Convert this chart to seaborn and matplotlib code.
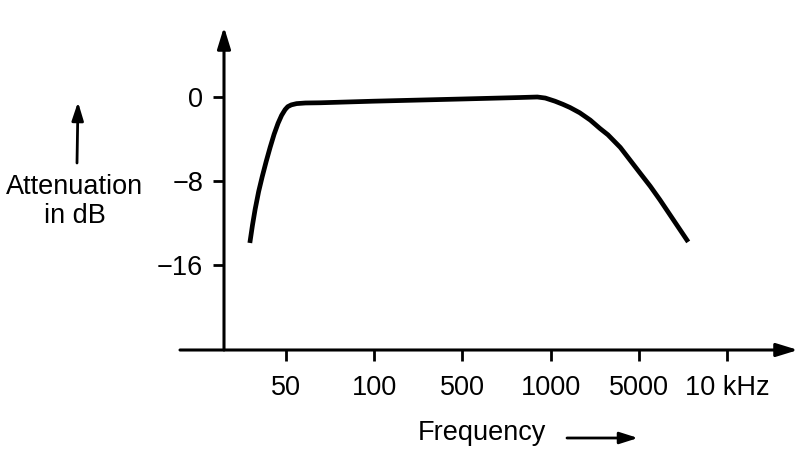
import matplotlib
matplotlib.use("Agg")
import matplotlib.pyplot as plt
import seaborn as sns
import pandas as pd

# ---- data (x in tick-index units, y in dB) ----
tick_labels = ["50", "100", "500", "1000", "5000", "10 kHz"]
tick_pos = [0, 1, 2, 3, 4, 5]
y_ticks = [0, -8, -16]
y_tick_labels = ["0", "\u22128", "\u221216"]

freq_pos = [-0.41, -0.38, -0.35, -0.31, -0.27, -0.225, -0.18, -0.135, -0.09,
            -0.05, -0.01, 0.02, 0.06, 0.12, 0.22, 0.39, 0.99, 1.95, 2.65,
            2.85, 2.94, 3.05, 3.14, 3.22, 3.33, 3.45, 3.56, 3.65, 3.79, 3.90,
            4.01, 4.13, 4.24, 4.40, 4.56]
attenuation = [-13.9, -12.2, -10.7, -9.0, -7.6, -6.15, -4.8, -3.55, -2.5,
               -1.75, -1.2, -0.92, -0.75, -0.63, -0.57, -0.55, -0.4, -0.2, -0.05,
               0.0, -0.1, -0.4, -0.7, -1.0, -1.5, -2.2, -3.0, -3.6, -4.8, -6.0,
               -7.2, -8.5, -9.8, -11.8, -13.8]

df = pd.DataFrame({"pos": freq_pos, "db": attenuation})

sns.set_theme(style="white")
plt.rcParams["font.family"] = ["Liberation Sans", "DejaVu Sans"]

W, H = 808, 469
fig = plt.figure(figsize=(W / 100, H / 100), dpi=100)
fig.patch.set_facecolor("white")

def fx(px):
    return px / W

def fy(py):
    return 1 - py / H

left, right, top, bottom = 224, 798, 27, 350
ax = fig.add_axes([fx(left), fy(bottom), (right - left) / W, (bottom - top) / H])
ax.set_facecolor("none")

xlim = ((left - 286) / 88.2, (right - 286) / 88.2)
ylim = (-(bottom - 97) / 10.5, -(top - 97) / 10.5)
ax.set_xlim(*xlim)
ax.set_ylim(*ylim)

sns.lineplot(data=df, x="pos", y="db", sort=False, color="black",
             linewidth=3.4, ax=ax, solid_capstyle="butt",
             solid_joinstyle="round")

for s in ax.spines.values():
    s.set_visible(False)

fs = 19.5
ax.set_xticks(tick_pos)
ax.set_xticklabels(tick_labels, fontsize=fs)
ax.set_yticks(y_ticks)
ax.set_yticklabels(y_tick_labels, fontsize=fs)
ax.tick_params(axis="x", direction="out", length=8, width=2, pad=10,
               color="black", labelcolor="black", bottom=True)
ax.tick_params(axis="y", direction="out", length=8, width=2, pad=7,
               color="black", labelcolor="black", left=True)
ax.set_xlabel("")
ax.set_ylabel("")
ax.grid(False)

# axis lines with arrow heads
arrow_kw = dict(arrowstyle="-|>,head_length=1.3,head_width=0.4",
                color="black", lw=2.2, mutation_scale=10, shrinkA=0, shrinkB=0)
ax.annotate("", xy=(xlim[1], ylim[0]), xytext=((180 - 286) / 88.2, ylim[0]),
            xycoords="data", textcoords="data", arrowprops=arrow_kw,
            annotation_clip=False)
ax.annotate("", xy=(xlim[0], ylim[1]), xytext=(xlim[0], ylim[0]),
            xycoords="data", textcoords="data", arrowprops=arrow_kw,
            annotation_clip=False)

# axis titles
fig.text(fx(75), fy(201), "Attenuation\nin dB", ha="center", va="center",
         fontsize=fs, linespacing=1.15, color="black")
fig.text(fx(482), fy(433), "Frequency", ha="center", va="center",
         fontsize=fs, color="black")

small_kw = dict(arrowstyle="-|>,head_length=1.1,head_width=0.35",
                color="black", lw=2.0, mutation_scale=10, shrinkA=0, shrinkB=0)
ax.annotate("", xy=(fx(78), fy(102)), xytext=(fx(77), fy(163)),
            xycoords="figure fraction", textcoords="figure fraction",
            arrowprops=small_kw, annotation_clip=False)
ax.annotate("", xy=(fx(638), fy(438)), xytext=(fx(567), fy(438)),
            xycoords="figure fraction", textcoords="figure fraction",
            arrowprops=small_kw, annotation_clip=False)

fig.savefig("out.png", dpi=100, facecolor="white")
